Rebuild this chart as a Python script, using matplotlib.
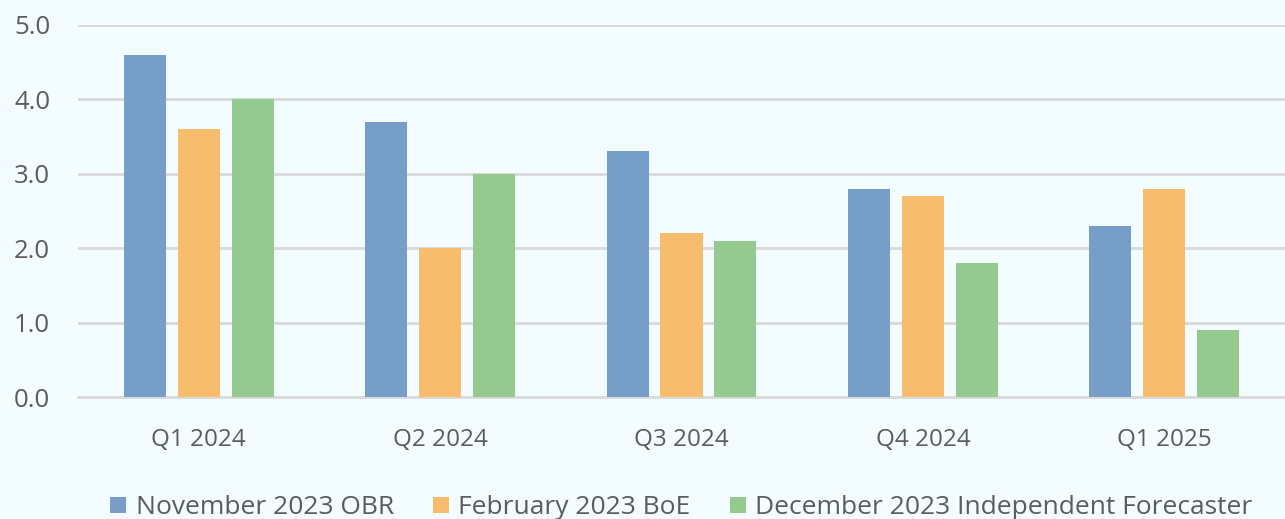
import numpy as np
import matplotlib
matplotlib.use("Agg")
import matplotlib.pyplot as plt

# ── Data ─────────────────────────────────────────────────────────
quarters = ["Q1 2024", "Q2 2024", "Q3 2024", "Q4 2024", "Q1 2025"]
series_names = ["November 2023 OBR", "February 2023 BoE",
                "December 2023 Independent Forecaster"]
obr_nov23 = [4.6, 3.7, 3.3, 2.8, 2.3]
boe_feb23 = [3.6, 2.0, 2.2, 2.7, 2.8]
indep_dec23 = [4.0, 3.0, 2.1, 1.8, 0.9]
y_ticks = [0.0, 1.0, 2.0, 3.0, 4.0, 5.0]

COLORS = ["#779DC9", "#F7BC6C", "#94C98F"]
BG = "#F3FCFF"
TXT = "#5C5C5C"
GRID = "#D9D9D9"

plt.rcParams.update({
    "font.family": ["Open Sans", "DejaVu Sans"],
    "font.size": 17,
})

fig = plt.figure(figsize=(12.85, 5.19), dpi=100, facecolor=BG)
ax = fig.add_axes([0.0607, 0.235, 0.9393, 0.717], facecolor=BG)

x = np.arange(len(quarters))
width = 0.174
offset = 0.2236
for i, (vals, name) in enumerate(zip([obr_nov23, boe_feb23, indep_dec23], series_names)):
    ax.bar(x + (i - 1) * offset, vals, width, color=COLORS[i], label=name, zorder=3)

ax.set_xlim(-0.5, len(quarters) - 0.5)
ax.set_ylim(0, 5)
ax.set_yticks(y_ticks)
ax.set_yticklabels([f"{v:.1f}" for v in y_ticks])
ax.set_xticks(x)
ax.set_xticklabels(quarters)
ax.yaxis.grid(True, color=GRID, linewidth=2, zorder=0)
ax.tick_params(axis="both", length=0, colors=TXT)
ax.tick_params(axis="x", pad=22, labelsize=17.5)
ax.tick_params(axis="y", pad=20, labelsize=18.5)
for s in ["top", "right", "left"]:
    ax.spines[s].set_visible(False)
ax.spines["bottom"].set_color(GRID)
ax.spines["bottom"].set_linewidth(2)

leg = ax.legend(loc="upper center", bbox_to_anchor=(0.5, -0.2), ncol=3,
                frameon=False, fontsize=19, handlelength=0.6, handleheight=0.6,
                handletextpad=0.35, columnspacing=1.5)
for t in leg.get_texts():
    t.set_color(TXT)

fig.savefig("out.png", dpi=100, facecolor=BG)
